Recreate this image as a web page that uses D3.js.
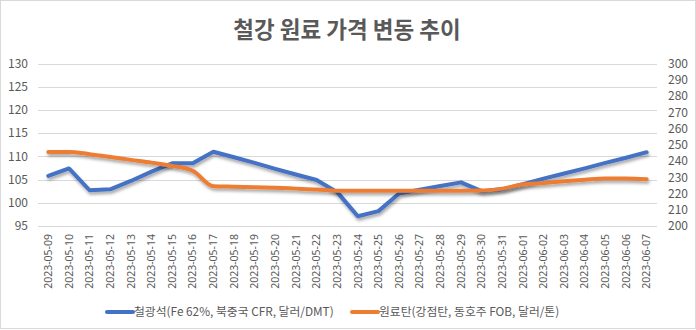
<!DOCTYPE html>
<html><head><meta charset="utf-8">
<script src="https://cdn.jsdelivr.net/npm/d3@7"></script>
<style>body{margin:0;background:#fff}svg{display:block}</style>
</head><body>
<script>
const categories = ["2023-05-09","2023-05-10","2023-05-11","2023-05-12","2023-05-13","2023-05-14","2023-05-15","2023-05-16","2023-05-17","2023-05-18","2023-05-19","2023-05-20","2023-05-21","2023-05-22","2023-05-23","2023-05-24","2023-05-25","2023-05-26","2023-05-27","2023-05-28","2023-05-29","2023-05-30","2023-05-31","2023-06-01","2023-06-02","2023-06-03","2023-06-04","2023-06-05","2023-06-06","2023-06-07"];
const ironOre = [105.8,107.4,102.7,102.9,104.7,106.7,108.5,108.5,111.0,109.8,108.6,107.3,106.1,104.9,102.3,97.1,98.2,102.0,102.8,103.6,104.4,102.5,102.9,104.0,105.2,106.3,107.4,108.6,109.7,110.9];
const coal = [245.6,245.6,244.2,242.5,240.7,239.0,237.0,234.0,224.5,224.2,223.9,223.5,223.0,222.5,221.7,221.7,221.7,221.7,221.7,221.7,221.7,221.8,223.0,225.5,226.5,227.5,228.5,229.3,229.3,228.8];
const leftTicks = [95,100,105,110,115,120,125,130];
const rightTicks = [200,210,220,230,240,250,260,270,280,290,300];
const seriesNames = ["철광석(Fe 62%, 북중국 CFR, 달러/DMT)","원료탄(강점탄, 동호주 FOB, 달러/톤)"];
const colors = ["#4472C4","#ED7D31"];
const title = "철강 원료 가격 변동 추이";

const W=696,H=330;
const svg=d3.select("body").append("svg").attr("width",W).attr("height",H);
const font="'Noto Sans CJK KR','Noto Sans',sans-serif";
svg.append("rect").attr("x",0.5).attr("y",0.5).attr("width",W-1).attr("height",328).attr("fill","#fff").attr("stroke","#d9d9d9");

const defs=svg.append("defs");
const f=defs.append("filter").attr("id","sh").attr("x","-10%").attr("y","-50%").attr("width","120%").attr("height","200%");
f.append("feDropShadow").attr("dx",1).attr("dy",2.5).attr("stdDeviation",1.5).attr("flood-color","#000").attr("flood-opacity",0.35);

svg.append("text").attr("x",347).attr("y",38).attr("text-anchor","middle").attr("font-family",font).attr("font-weight","bold").attr("font-size",22.5).attr("fill","#595959").text(title);

const x=d3.scaleBand().domain(categories).range([38,657]);
const yL=d3.scaleLinear().domain([95,130]).range([226,63.5]);
const yR=d3.scaleLinear().domain([200,300]).range([226,63.5]);

svg.append("g").selectAll("line").data(leftTicks).join("line")
 .attr("x1",38).attr("x2",657).attr("y1",d=>Math.round(yL(d))+0.5).attr("y2",d=>Math.round(yL(d))+0.5)
 .attr("stroke","#d9d9d9").attr("stroke-width",1);

const gl=svg.append("g").attr("transform","translate(28,0)").call(d3.axisLeft(yL).tickValues(leftTicks).tickSize(0).tickPadding(0));
const gr=svg.append("g").attr("transform","translate(668,0)").call(d3.axisRight(yR).tickValues(rightTicks).tickSize(0).tickPadding(0));
[gl,gr].forEach(g=>{g.select(".domain").remove();g.selectAll("text").attr("font-family",font).attr("font-size",12).attr("fill","#595959");});

const gx=svg.append("g").attr("transform","translate(0,234)").call(d3.axisBottom(x).tickSize(0).tickPadding(0));
gx.select(".domain").remove();
gx.selectAll("text").attr("font-family","'Noto Sans',sans-serif").attr("font-size",10.5).attr("fill","#595959")
 .attr("transform","rotate(-90)").attr("text-anchor","end").attr("dy","0.35em").attr("dx",0).attr("y",0).attr("x",0);

const cx=d=>x(d)+x.bandwidth()/2;
const lineL=d3.line().x((d,i)=>cx(categories[i])).y(d=>yL(d));
const lineR=d3.line().x((d,i)=>cx(categories[i])).y(d=>yR(d)).curve(d3.curveMonotoneX);
svg.append("path").attr("d",lineL(ironOre)).attr("fill","none").attr("stroke",colors[0]).attr("stroke-width",4).attr("stroke-linejoin","round").attr("stroke-linecap","round").attr("filter","url(#sh)");
svg.append("path").attr("d",lineR(coal)).attr("fill","none").attr("stroke",colors[1]).attr("stroke-width",4).attr("stroke-linejoin","round").attr("stroke-linecap","round").attr("filter","url(#sh)");

const legX=[107,352];
seriesNames.forEach((n,i)=>{
  const g=svg.append("g");
  g.append("line").attr("x1",legX[i]).attr("x2",legX[i]+26).attr("y1",312).attr("y2",312).attr("stroke",colors[i]).attr("stroke-width",4).attr("stroke-linecap","round");
  g.append("text").attr("x",legX[i]+27).attr("y",316).attr("font-family",font).attr("font-size",11.8).attr("fill","#595959").text(n);
});
</script>
</body></html>
